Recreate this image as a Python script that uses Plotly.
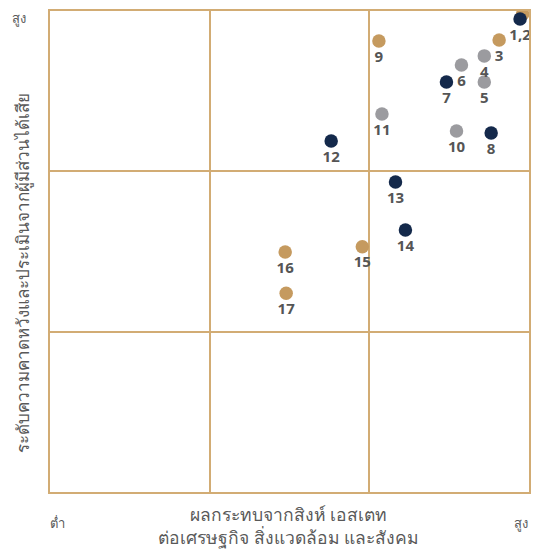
import plotly.graph_objects as go

# Data
labels = ["", "1,2", "3", "4", "5", "6", "7", "8", "9", "10", "11", "12", "13", "14", "15", "16", "17"]
x_vals = [2.96, 2.944, 2.813, 2.72, 2.72, 2.577, 2.483, 2.763, 2.06, 2.546, 2.079, 1.761, 2.164, 2.226, 1.956, 1.473, 1.479]
y_vals = [2.98, 2.95, 2.819, 2.72, 2.557, 2.663, 2.557, 2.239, 2.813, 2.252, 2.358, 2.189, 1.933, 1.634, 1.530, 1.497, 1.239]
groups = ["tan", "navy", "tan", "gray", "gray", "gray", "navy", "navy", "tan", "gray", "gray", "navy", "navy", "navy", "tan", "tan", "tan"]

colors = {"tan": "#C59A5F", "gray": "#9B9B9F", "navy": "#14294B"}
grid_color = "#D2AC74"

fig = go.Figure()
for g in ["tan", "gray", "navy"]:
    idx = [i for i, gg in enumerate(groups) if gg == g]
    fig.add_trace(go.Scatter(
        x=[x_vals[i] for i in idx],
        y=[y_vals[i] for i in idx],
        text=[labels[i] for i in idx],
        mode="markers+text",
        textposition="bottom center",
        marker=dict(size=13.5, color=colors[g]),
        textfont=dict(size=15, color="#555555", family="Open Sans", weight="bold"),
        cliponaxis=(g == "tan"),
        showlegend=False,
        hoverinfo="skip",
    ))

axis_common = dict(
    range=[0, 3], tickvals=[1, 2], showticklabels=False, ticks="",
    showgrid=True, gridcolor=grid_color, gridwidth=1.5,
    showline=True, mirror=True, linecolor=grid_color, linewidth=1.5,
    zeroline=False, fixedrange=True,
)
fig.update_xaxes(**axis_common)
fig.update_yaxes(**axis_common)

text_color = "#595959"
annotations = [
    dict(x=0, y=0, xref="paper", yref="paper", text="ต่ำ", showarrow=False,
         xanchor="center", yanchor="top", xshift=7, yshift=-20, font=dict(size=13, color=text_color)),
    dict(x=1, y=0, xref="paper", yref="paper", text="สูง", showarrow=False,
         xanchor="center", yanchor="top", xshift=-8, yshift=-20, font=dict(size=13, color=text_color)),
    dict(x=0, y=1, xref="paper", yref="paper", text="สูง", showarrow=False,
         xanchor="center", yanchor="middle", xshift=-31, yshift=-7, font=dict(size=13, color=text_color)),
    dict(x=0.5, y=0, xref="paper", yref="paper",
         text="ผลกระทบจากสิงห์ เอสเตท<br>ต่อเศรษฐกิจ สิ่งแวดล้อม และสังคม",
         showarrow=False, xanchor="center", yanchor="top", yshift=-8, xshift=-1,
         font=dict(size=17.5, color=text_color)),
    dict(x=0, y=0.5, xref="paper", yref="paper",
         text="ระดับความคาดหวังและประเมินจากผู้มีส่วนได้เสีย",
         showarrow=False, textangle=-90, xanchor="center", yanchor="middle", xshift=-28, yshift=-21,
         font=dict(size=17, color=text_color)),
]

fig.update_layout(
    width=538, height=550,
    margin=dict(l=50, r=7, t=11, b=58),
    paper_bgcolor="white", plot_bgcolor="white",
    annotations=annotations,
)

fig.write_html("out.html",
               config={"displayModeBar": False},
               post_script="document.body.style.margin='0px';document.body.style.overflow='hidden';")
